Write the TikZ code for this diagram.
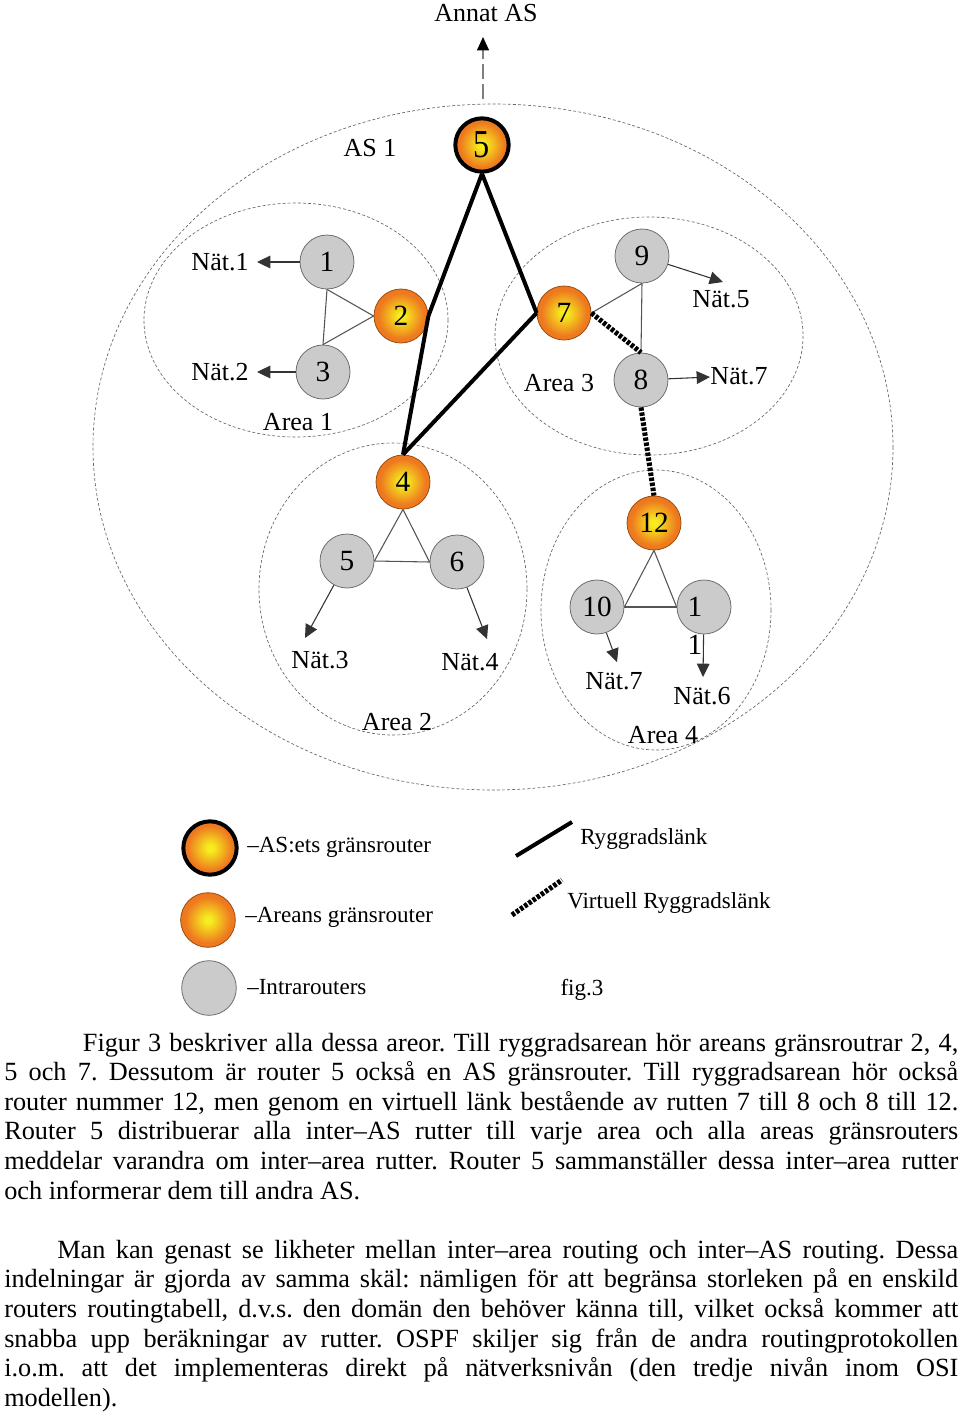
\documentclass[tikz,border=0pt]{standalone}
\usepackage{fontspec}
\setmainfont{Liberation Serif}
\usetikzlibrary{arrows.meta}
\definecolor{ballin}{HTML}{F6EC1E}
\definecolor{ballout}{HTML}{EE7A1F}
\definecolor{ballrim}{HTML}{9A4E12}
\definecolor{intrafill}{HTML}{CBCBCB}
\definecolor{intrarim}{HTML}{6E6E6E}
\definecolor{linkgray}{HTML}{555555}
\pgfdeclareradialshading{brball}{\pgfpoint{0bp}{0bp}}{color(0bp)=(ballin); color(3bp)=(ballin); color(21bp)=(ballout); color(35bp)=(ballout!92!red); color(50bp)=(ballout!92!red)}
\begin{document}
\begin{tikzpicture}[x=0.75pt,y=-0.75pt,
    router/.style={circle, minimum size=40.5pt, inner sep=0pt, font=\fontsize{22}{22}\selectfont},
    intra/.style={router, draw=intrarim, fill=intrafill, line width=0.6pt},
    abr/.style={router, draw=ballrim, line width=0.6pt, shading=brball},
    asbr/.style={abr, draw=black, line width=3pt, minimum size=40pt},
    area/.style={draw=gray!80!black, line width=0.5pt, dash pattern=on 2.2pt off 1.6pt},
    tie/.style={draw=linkgray, line width=0.8pt},
    netarr/.style={draw=black!80, line width=0.8pt, -{Triangle[length=10pt,width=9.5pt]}},
    exitlink/.style={draw=gray, line width=0.8pt, dash pattern=on 11pt off 4pt, -{Triangle[length=10pt,width=9pt,color=black]}},
    backbone/.style={line width=3pt},
    virtual/.style={line width=3.8pt, dash pattern=on 2.6pt off 1.2pt},
    lbl/.style={font=\fontsize{19.5}{22}\selectfont, inner sep=1pt},
    legtxt/.style={font=\fontsize{17.3}{20}\selectfont, anchor=west, inner sep=0pt},
    bodytext/.style={anchor=base west, text width=715.5pt, inner sep=0pt, align=justify, font=\fontsize{19.7}{22.2}\selectfont}]
      \useasboundingbox (0,0) rectangle (960,1415);
      % AS and areas
      \draw[area] (493,447) ellipse [x radius=400, y radius=343];
      \draw[area] (296,320) ellipse [x radius=152, y radius=117];
      \draw[area] (649,336) ellipse [x radius=154, y radius=119];
      \draw[area] (393,589) ellipse [x radius=134, y radius=146];
      \draw[area] (656,610) ellipse [x radius=115, y radius=140];
      \node[lbl] (annat) at (486,13) {Annat AS};
      \node[lbl] (as1) at (370,148) {AS 1};
      \node[lbl] (area1) at (298,422) {Area 1};
      \node[lbl] (area3) at (559,383) {Area 3};
      \node[lbl] (area2) at (397,722) {Area 2};
      \node[lbl] (area4) at (663,735) {Area 4};
      % routers
      \node[asbr] (n5) at (482,145) {\scalebox{1.1}[1.35]{5}};
      \node[intra] (n1) at (327,262) {1};
      \node[abr] (n2) at (401,316) {2};
      \node[intra] (n3) at (323,372) {3};
      \node[abr] (n7) at (564,313) {7};
      \node[intra] (n9) at (642,256) {9};
      \node[intra] (n8) at (641,380) {8};
      \node[abr] (n4) at (403,482) {4};
      \node[intra] (r5) at (347,561) {5};
      \node[intra] (n6) at (457,562) {6};
      \node[abr] (n12) at (654,523) {12};
      \node[intra] (n10) at (597,607) {10};
      \node[intra] (n11) at (704,607) {};
      \node[font=\fontsize{22}{22}\selectfont, inner sep=0pt] (n11a) at (695,607) {1};
      \node[font=\fontsize{22}{22}\selectfont, inner sep=0pt] (n11b) at (695,645) {1};
      % nets
      \node[lbl] (net1) at (220,262) {Nät.1};
      \node[lbl] (net2) at (220,372) {Nät.2};
      \node[lbl] (net5) at (721,299) {Nät.5};
      \node[lbl] (net7a) at (739,376) {Nät.7};
      \node[lbl] (net3) at (320,660) {Nät.3};
      \node[lbl] (net4) at (470,662) {Nät.4};
      \node[lbl] (net7b) at (614,681) {Nät.7};
      \node[lbl] (net6) at (702,696) {Nät.6};
      \coordinate (tip1) at (257,262);
      \coordinate (tip2) at (257,372);
      \coordinate (tip5) at (723,282);
      \coordinate (tip7a) at (710,377);
      \coordinate (tip3) at (305,638);
      \coordinate (tip4) at (487,639);
      \coordinate (tip7b) at (617,662);
      \coordinate (tip6) at (703,677);
      \coordinate (exit) at (483,99);
      \coordinate (tipx) at (483,37);
      \draw[tie] (n1.south) -- (n3.north);
      \draw[tie] (n1.south) -- (n2.west);
      \draw[tie] (n3.north) -- (n2.west);
      \draw[tie] (n9.south) -- (n8.north);
      \draw[tie] (n9.south) -- (n7.east);
      \draw[tie] (n4.south) -- (r5.east);
      \draw[tie] (n4.south) -- (n6.west);
      \draw[tie] (r5.east) -- (n6.west);
      \draw[tie] (n12.south) -- (n10.east);
      \draw[tie] (n12.south) -- (n11.west);
      \draw[tie] (n10.east) -- (n11.west);
      \draw[netarr] (n1) -- (tip1);
      \draw[netarr] (n3) -- (tip2);
      \draw[netarr] (n9) -- (tip5);
      \draw[netarr] (n8) -- (tip7a);
      \draw[netarr] (r5) -- (tip3);
      \draw[netarr] (n6) -- (tip4);
      \draw[netarr] (n10) -- (tip7b);
      \draw[netarr] (n11) -- (tip6);
      \draw[exitlink] (exit) -- (tipx);
      % backbone
      \draw[backbone] (n5.south) -- (n2.east);
      \draw[backbone] (n2.east) -- (n4.north);
      \draw[backbone] (n5.south) -- (n7.west);
      \draw[backbone] (n7.west) -- (n4.north);
      \draw[virtual] (n7.east) -- (n8.north);
      \draw[virtual] (n8.south) -- (n12.north);
      % legend
      \node[asbr] (leg1) at (210,848) {};
      \node[abr, minimum size=41pt] (leg2) at (208,920) {};
      \node[intra, minimum size=41pt] (leg3) at (209,988) {};
      \node[legtxt] (lt1) at (247,847) {–AS:ets gränsrouter};
      \node[legtxt] (lt2) at (245,917) {–Areans gränsrouter};
      \node[legtxt] (lt3) at (247,987) {–Intrarouters};
      \coordinate (bb1) at (516,856);
      \coordinate (bb2) at (572,822);
      \coordinate (vl1) at (512,915);
      \coordinate (vl2) at (562,880);
      \draw[backbone] (bb1) -- (bb2);
      \draw[virtual] (vl1) -- (vl2);
      \node[legtxt] (ltbb) at (580,839) {Ryggradslänk};
      \node[legtxt] (ltvl) at (567,903) {Virtuell Ryggradslänk};
      \node[legtxt, anchor=center] (fig) at (582,990) {fig.3};
      % text below the figure
      \node[bodytext] (para) at (4,1051) {\parindent=0pt\tolerance=9999\frenchspacing
        \hspace*{59pt}Figur 3 beskriver alla dessa areor. Till ryggradsarean hör areans gränsroutrar 2, 4,\linebreak
        5 och 7. Dessutom är router 5 också en AS gränsrouter. Till ryggradsarean hör också\linebreak
        router nummer 12, men genom en virtuell länk bestående av rutten 7 till 8 och 8 till 12.\linebreak
        Router 5 distribuerar alla inter–AS rutter till varje area och alla areas gränsrouters\linebreak
        meddelar varandra om inter–area rutter. Router 5 sammanställer dessa inter–area rutter\linebreak
        och informerar dem till andra AS.\par\vspace{22.2pt}
        \hspace*{39.75pt}Man kan genast se likheter mellan inter–area routing och inter–AS routing. Dessa\linebreak
        indelningar är gjorda av samma skäl: nämligen för att begränsa storleken på en enskild\linebreak
        routers routingtabell, d.v.s. den domän den behöver känna till, vilket också kommer att\linebreak
        snabba upp beräkningar av rutter. OSPF skiljer sig från de andra routingprotokollen\linebreak
        i.o.m. att det implementeras direkt på nätverksnivån (den tredje nivån inom OSI\linebreak
        modellen).\par};
    \end{tikzpicture}
\end{document}
